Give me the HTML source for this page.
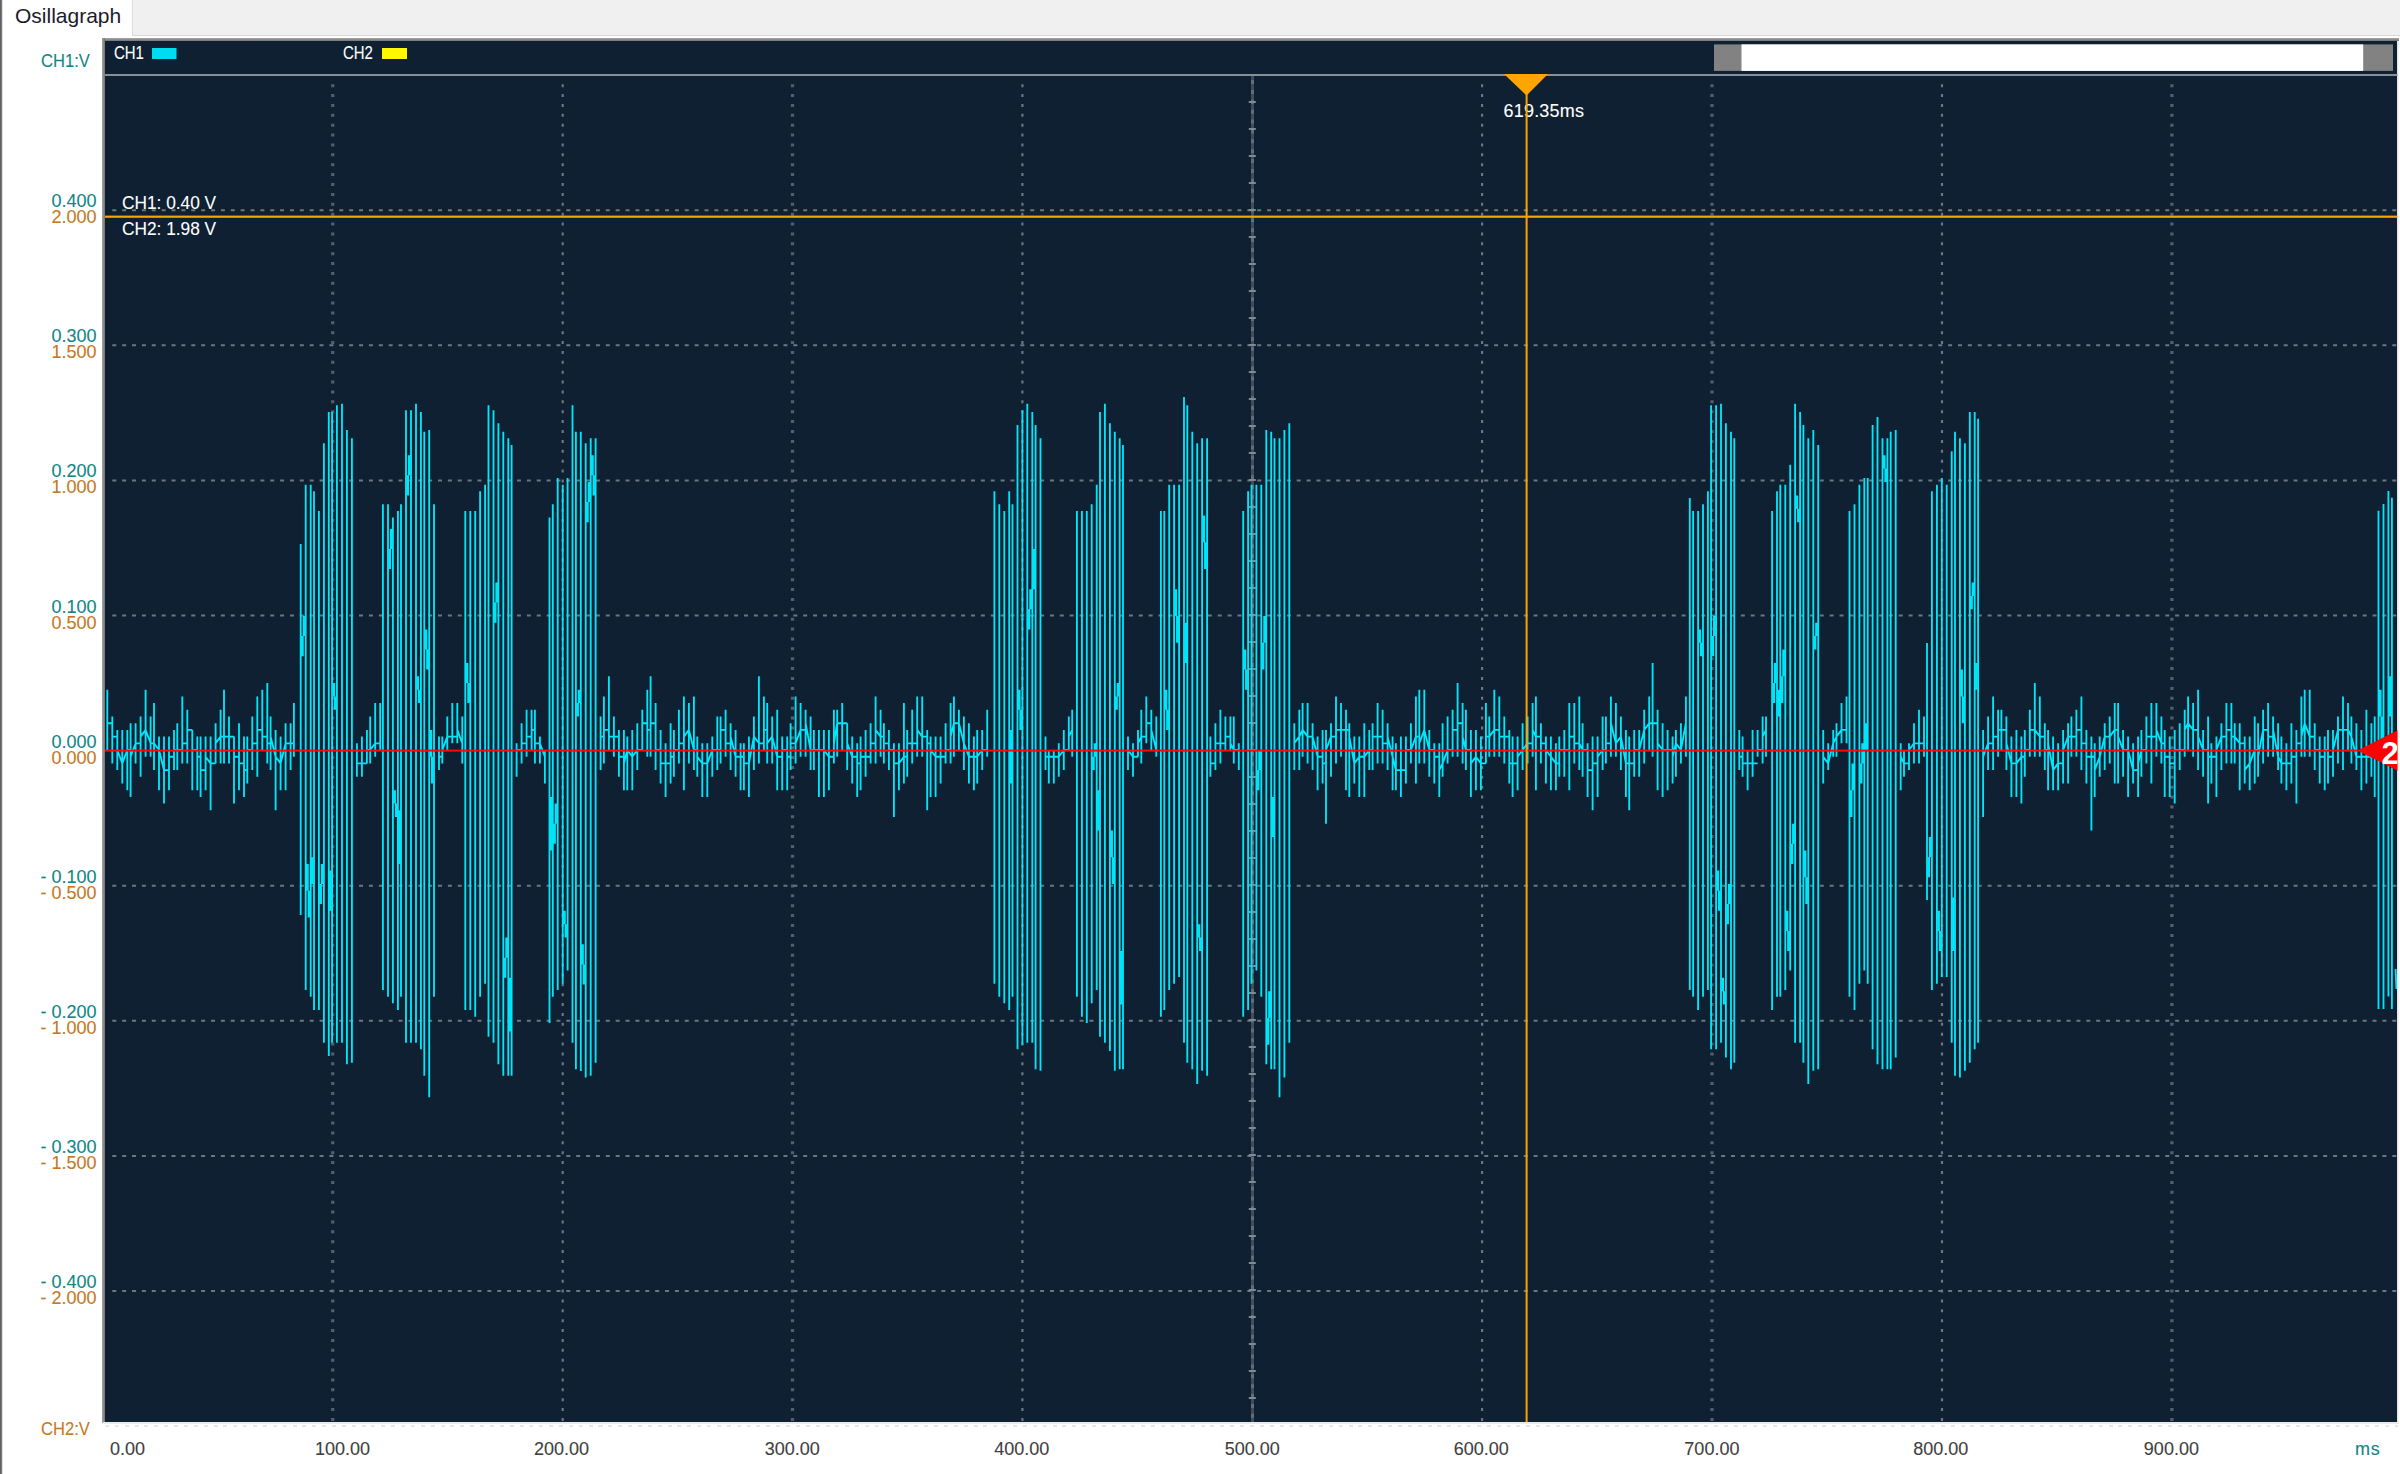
<!DOCTYPE html>
<html><head><meta charset="utf-8"><title>Osillagraph</title>
<style>
html,body{margin:0;padding:0;background:#fff;}
body{width:2400px;height:1474px;position:relative;overflow:hidden;font-family:"Liberation Sans",sans-serif;font-size:18px;line-height:20px;}
.abs{position:absolute}
#edge{left:0;top:0;width:3px;height:1474px;background:linear-gradient(90deg,#5e5e5e 0,#6a6a6a 45%,#d9d9d9 80%,#fff 100%);}
#strip{left:132px;top:0;width:2268px;height:35px;background:#f0f0f0;border-left:1px solid #dcdcdc;border-bottom:1px solid #d9d9d9;box-sizing:border-box;height:36px}
#tab{left:15px;top:4px;font-size:21px;line-height:24px;color:#1b1b2b;white-space:nowrap}
#frame{left:102px;top:38px;width:2297px;height:3px;background:linear-gradient(180deg,#a8a8a8 0,#868686 66%,#6f7478 100%);}
#frameL{left:102px;top:38px;width:3px;height:1385px;background:linear-gradient(90deg,#a4a4a4 0,#858585 66%,#6f7478 100%);}
#frameB{left:103px;top:1422px;width:2296px;height:2px;background:#ebebeb}
#frameR{left:2397px;top:41px;width:2px;height:1383px;background:linear-gradient(90deg,#dfe1e3,#f6f6f6)}
#dash{left:105px;top:1425px;width:2293px;height:2px;background:repeating-linear-gradient(90deg,#e6e6e6 0,#e6e6e6 4px,#fff 4px,#fff 9.87px)}
#plot{left:105px;top:41px;width:2292px;height:1381px;background:#0e2032;}
svg{position:absolute;left:0;top:0}
.gv{stroke:#8a949d;stroke-width:2.2;stroke-dasharray:3 7;}
.gh{stroke:#6c7680;stroke-width:2;stroke-dasharray:4 5.87;}
.yl{position:absolute;left:0;width:96.5px;text-align:right;white-space:pre}
.t{color:#0f8686;-webkit-text-stroke:.1px #0f8686} .o{color:#c7781e;-webkit-text-stroke:.1px #c7781e}
.xl{position:absolute;top:1439px;color:#404040;white-space:nowrap;-webkit-text-stroke:.1px #404040}
.xl.c{width:100px;text-align:center}
.w{color:#fff;position:absolute;white-space:pre;-webkit-text-stroke:.1px #fff}
</style></head><body>
<div class="abs" id="strip"></div>
<div class="abs" id="edge"></div>
<div class="abs" id="tab">Osillagraph</div>
<div class="abs" id="frame"></div>
<div class="abs" id="frameL"></div>
<div class="abs" id="frameB"></div><div class="abs" id="frameR"></div><div class="abs" id="dash"></div>
<div class="abs" id="plot"></div>
<div class="abs t" style="left:41px;top:51px;transform-origin:0 0;transform:scaleX(.92);white-space:nowrap">CH1:V</div>
<div class="abs o" style="left:41px;top:1419px;transform-origin:0 0;transform:scaleX(.92);white-space:nowrap">CH2:V</div>
<div class="yl t" style="top:191px">0.400</div><div class="yl o" style="top:207px">2.000</div><div class="yl t" style="top:326px">0.300</div><div class="yl o" style="top:342px">1.500</div><div class="yl t" style="top:461px">0.200</div><div class="yl o" style="top:477px">1.000</div><div class="yl t" style="top:597px">0.100</div><div class="yl o" style="top:613px">0.500</div><div class="yl t" style="top:732px">0.000</div><div class="yl o" style="top:748px">0.000</div><div class="yl t" style="top:867px">- 0.100</div><div class="yl o" style="top:883px">- 0.500</div><div class="yl t" style="top:1002px">- 0.200</div><div class="yl o" style="top:1018px">- 1.000</div><div class="yl t" style="top:1137px">- 0.300</div><div class="yl o" style="top:1153px">- 1.500</div><div class="yl t" style="top:1272px">- 0.400</div><div class="yl o" style="top:1288px">- 2.000</div>
<div class="xl" style="left:110px">0.00</div><div class="xl c" style="left:292.5px">100.00</div><div class="xl c" style="left:511.5px">200.00</div><div class="xl c" style="left:742.2px">300.00</div><div class="xl c" style="left:971.7px">400.00</div><div class="xl c" style="left:1202.2px">500.00</div><div class="xl c" style="left:1431.3px">600.00</div><div class="xl c" style="left:1661.9px">700.00</div><div class="xl c" style="left:1890.8px">800.00</div><div class="xl c" style="left:2121.4px">900.00</div>
<div class="abs t" style="left:2355px;top:1439px;letter-spacing:.7px">ms</div>
<div class="w" style="left:114px;top:43px;transform-origin:0 0;transform:scaleX(.83)">CH1</div>
<div class="w" style="left:343px;top:43px;transform-origin:0 0;transform:scaleX(.83)">CH2</div>
<div class="w" style="left:1503.5px;top:101px;letter-spacing:.2px">619.35ms</div>
<svg width="2400" height="1474" viewBox="0 0 2400 1474">
<defs><clipPath id="cp"><rect x="105" y="41" width="2292.5" height="1381"/></clipPath></defs>
<g clip-path="url(#cp)">
<rect x="105" y="74" width="2293" height="2" fill="#878f97"/>
<line x1="332.7" y1="84.2" x2="332.7" y2="1422" stroke="#525f6b" stroke-width="3.3" stroke-dasharray="3 6.88"/><line x1="562.7" y1="84.2" x2="562.7" y2="1422" stroke="#6b7680" stroke-width="2.2" stroke-dasharray="3 6.88"/><line x1="792.5" y1="84.2" x2="792.5" y2="1422" stroke="#525f6b" stroke-width="3.3" stroke-dasharray="3 6.88"/><line x1="1022.4" y1="84.2" x2="1022.4" y2="1422" stroke="#6b7680" stroke-width="2.2" stroke-dasharray="3 6.88"/><line x1="1482.1" y1="84.2" x2="1482.1" y2="1422" stroke="#6b7680" stroke-width="2.2" stroke-dasharray="3 6.88"/><line x1="1712.0" y1="84.2" x2="1712.0" y2="1422" stroke="#525f6b" stroke-width="3.3" stroke-dasharray="3 6.88"/><line x1="1942.0" y1="84.2" x2="1942.0" y2="1422" stroke="#6b7680" stroke-width="2.2" stroke-dasharray="3 6.88"/><line x1="2171.9" y1="84.2" x2="2171.9" y2="1422" stroke="#525f6b" stroke-width="3.3" stroke-dasharray="3 6.88"/><line x1="112.3" y1="210.2" x2="2397" y2="210.2" class="gh"/><line x1="112.3" y1="345.3" x2="2397" y2="345.3" class="gh"/><line x1="112.3" y1="480.4" x2="2397" y2="480.4" class="gh"/><line x1="112.3" y1="615.5" x2="2397" y2="615.5" class="gh"/><line x1="112.3" y1="885.7" x2="2397" y2="885.7" class="gh"/><line x1="112.3" y1="1020.8" x2="2397" y2="1020.8" class="gh"/><line x1="112.3" y1="1155.9" x2="2397" y2="1155.9" class="gh"/><line x1="112.3" y1="1291.0" x2="2397" y2="1291.0" class="gh"/>
<rect x="1251" y="76" width="3" height="1346" fill="#414e5a"/><line x1="1252.5" y1="76" x2="1252.5" y2="1422" stroke="#616d79" stroke-width="3" stroke-dasharray="4 5.88" stroke-dashoffset="-4"/><rect x="1248.8" y="101.0" width="7" height="2" fill="#808a93"/><rect x="1248.8" y="128.0" width="7" height="2" fill="#808a93"/><rect x="1248.8" y="155.0" width="7" height="2" fill="#808a93"/><rect x="1248.8" y="182.0" width="7" height="2" fill="#808a93"/><rect x="1248.8" y="209.0" width="7" height="2" fill="#808a93"/><rect x="1248.8" y="236.0" width="7" height="2" fill="#808a93"/><rect x="1248.8" y="263.0" width="7" height="2" fill="#808a93"/><rect x="1248.8" y="290.0" width="7" height="2" fill="#808a93"/><rect x="1248.8" y="317.0" width="7" height="2" fill="#808a93"/><rect x="1248.8" y="344.0" width="7" height="2" fill="#808a93"/><rect x="1248.8" y="371.0" width="7" height="2" fill="#808a93"/><rect x="1248.8" y="398.0" width="7" height="2" fill="#808a93"/><rect x="1248.8" y="425.0" width="7" height="2" fill="#808a93"/><rect x="1248.8" y="452.0" width="7" height="2" fill="#808a93"/><rect x="1248.8" y="479.0" width="7" height="2" fill="#808a93"/><rect x="1248.8" y="506.0" width="7" height="2" fill="#808a93"/><rect x="1248.8" y="533.0" width="7" height="2" fill="#808a93"/><rect x="1248.8" y="560.0" width="7" height="2" fill="#808a93"/><rect x="1248.8" y="587.0" width="7" height="2" fill="#808a93"/><rect x="1248.8" y="614.0" width="7" height="2" fill="#808a93"/><rect x="1248.8" y="641.0" width="7" height="2" fill="#808a93"/><rect x="1248.8" y="668.0" width="7" height="2" fill="#808a93"/><rect x="1248.8" y="695.0" width="7" height="2" fill="#808a93"/><rect x="1248.8" y="722.0" width="7" height="2" fill="#808a93"/><rect x="1248.8" y="749.0" width="7" height="2" fill="#808a93"/><rect x="1248.8" y="776.0" width="7" height="2" fill="#808a93"/><rect x="1248.8" y="803.0" width="7" height="2" fill="#808a93"/><rect x="1248.8" y="830.0" width="7" height="2" fill="#808a93"/><rect x="1248.8" y="857.0" width="7" height="2" fill="#808a93"/><rect x="1248.8" y="884.0" width="7" height="2" fill="#808a93"/><rect x="1248.8" y="911.0" width="7" height="2" fill="#808a93"/><rect x="1248.8" y="938.0" width="7" height="2" fill="#808a93"/><rect x="1248.8" y="965.0" width="7" height="2" fill="#808a93"/><rect x="1248.8" y="992.0" width="7" height="2" fill="#808a93"/><rect x="1248.8" y="1019.0" width="7" height="2" fill="#808a93"/><rect x="1248.8" y="1046.0" width="7" height="2" fill="#808a93"/><rect x="1248.8" y="1073.0" width="7" height="2" fill="#808a93"/><rect x="1248.8" y="1100.0" width="7" height="2" fill="#808a93"/><rect x="1248.8" y="1127.0" width="7" height="2" fill="#808a93"/><rect x="1248.8" y="1154.0" width="7" height="2" fill="#808a93"/><rect x="1248.8" y="1181.0" width="7" height="2" fill="#808a93"/><rect x="1248.8" y="1208.0" width="7" height="2" fill="#808a93"/><rect x="1248.8" y="1235.0" width="7" height="2" fill="#808a93"/><rect x="1248.8" y="1262.0" width="7" height="2" fill="#808a93"/><rect x="1248.8" y="1289.0" width="7" height="2" fill="#808a93"/><rect x="1248.8" y="1316.0" width="7" height="2" fill="#808a93"/><rect x="1248.8" y="1343.0" width="7" height="2" fill="#808a93"/><rect x="1248.8" y="1370.0" width="7" height="2" fill="#808a93"/><rect x="1248.8" y="1397.0" width="7" height="2" fill="#808a93"/>
<rect x="105" y="215.6" width="2293" height="2.2" fill="#f6a600"/>
<path d="M107.3 689.7L107.3 750.0M112.3 716.5L112.3 763.4M107.3 723.2L112.3 723.2M117.3 729.9L117.3 770.1M112.3 736.6L117.3 736.6M122.3 729.9L122.3 783.5M117.3 750.0L122.3 763.4M127.3 729.9L127.3 790.2M122.3 763.4L127.3 750.0M130.6 723.2L130.6 796.9M127.3 750.0L130.6 750.0M135.6 723.2L135.6 763.4M130.6 756.7L135.6 743.3M140.6 716.5L140.6 776.8M135.6 743.3L140.6 743.3M145.6 689.7L145.6 756.7M140.6 736.6L145.6 729.9M150.6 716.5L150.6 756.7M145.6 729.9L150.6 743.3M154.0 703.1L154.0 770.1M150.6 743.3L154.0 743.3M159.0 736.6L159.0 790.2M154.0 743.3L159.0 750.0M164.0 736.6L164.0 803.6M159.0 750.0L164.0 770.1M169.0 736.6L169.0 790.2M164.0 770.1L169.0 770.1M174.0 729.9L174.0 770.1M169.0 756.7L174.0 756.7M177.3 723.2L177.3 770.1M174.0 750.0L177.3 750.0M182.3 696.4L182.3 763.4M177.3 750.0L182.3 750.0M187.3 709.8L187.3 763.4M182.3 743.3L187.3 743.3M192.3 729.9L192.3 790.2M187.3 729.9L192.3 729.9M197.3 736.6L197.3 790.2M192.3 750.0L197.3 750.0M200.6 736.6L200.6 796.9M197.3 756.7L200.6 756.7M205.6 736.6L205.6 790.2M200.6 770.1L205.6 770.1M210.6 736.6L210.6 810.3M205.6 756.7L210.6 763.4M215.6 723.2L215.6 763.4M210.6 763.4L215.6 763.4M220.6 709.8L220.6 763.4M215.6 743.3L220.6 736.6M224.0 689.7L224.0 763.4M220.6 736.6L224.0 736.6M229.0 716.5L229.0 763.4M224.0 736.6L229.0 736.6M234.0 736.6L234.0 803.6M229.0 736.6L234.0 736.6M239.0 723.2L239.0 790.2M234.0 756.7L239.0 756.7M244.0 736.6L244.0 796.9M239.0 763.4L244.0 763.4M247.3 736.6L247.3 783.5M244.0 770.1L247.3 770.1M252.3 716.5L252.3 770.1M247.3 750.0L252.3 750.0M257.3 696.4L257.3 776.8M252.3 743.3L257.3 743.3M262.3 689.7L262.3 750.0M257.3 729.9L262.3 729.9M267.3 683.0L267.3 763.4M262.3 736.6L267.3 736.6M270.6 716.5L270.6 770.1M267.3 743.3L270.6 743.3M275.6 729.9L275.6 810.3M270.6 736.6L275.6 756.7M280.6 736.6L280.6 790.2M275.6 756.7L280.6 763.4M285.6 723.2L285.6 790.2M280.6 763.4L285.6 743.3M290.6 723.2L290.6 770.1M285.6 743.3L290.6 743.3M293.9 703.1L293.9 756.7M290.6 743.3L293.9 743.3M300.7 544.0L300.7 915.0M305.7 484.7L305.7 990.0M310.7 484.7L310.7 996.7M314.0 491.3L314.0 1010.0M318.9 511.0L318.9 1010.0M323.9 443.3L323.9 1042.7M328.8 412.0L328.8 1056.0M332.1 412.0L332.1 1042.7M336.9 405.3L336.9 1042.7M342.0 403.7L342.0 1042.7M346.9 430.0L346.9 1064.3M351.9 438.3L351.9 1062.7M356.9 743.3L356.9 776.8M361.9 736.6L361.9 776.8M356.9 763.4L361.9 763.4M366.9 729.9L366.9 763.4M361.9 763.4L366.9 763.4M370.2 716.5L370.2 763.4M366.9 750.0L370.2 750.0M375.2 703.1L375.2 756.7M370.2 750.0L375.2 743.3M380.2 703.1L380.2 750.0M375.2 743.3L380.2 743.3M382.9 504.3L382.9 990.0M388.0 504.3L388.0 996.7M392.9 517.6L392.9 1003.3M397.9 511.0L397.9 1010.0M401.0 504.3L401.0 996.7M406.0 410.3L406.0 1042.7M411.0 410.3L411.0 1042.7M416.0 403.7L416.0 1042.7M420.9 412.0L420.9 1049.3M424.3 431.7L424.3 1075.7M429.2 430.0L429.2 1097.3M434.0 504.3L434.0 996.7M439.0 736.6L439.0 770.1M442.3 736.6L442.3 763.4M439.0 756.7L442.3 756.7M447.3 716.5L447.3 750.0M442.3 750.0L447.3 736.6M452.3 703.1L452.3 743.3M447.3 736.6L452.3 736.6M457.3 703.1L457.3 743.3M452.3 736.6L457.3 736.6M462.3 716.5L462.3 763.4M457.3 729.9L462.3 743.3M465.3 511.0L465.3 1010.0M470.3 511.0L470.3 1010.0M475.2 511.0L475.2 1016.7M480.1 491.3L480.1 996.7M485.1 484.7L485.1 983.7M488.5 405.3L488.5 1036.7M493.5 410.3L493.5 1042.7M498.4 423.3L498.4 1064.3M503.3 431.7L503.3 1075.7M508.3 438.3L508.3 1075.7M511.6 445.0L511.6 1075.7M516.6 743.3L516.6 776.8M521.6 723.2L521.6 763.4M516.6 750.0L521.6 750.0M526.6 709.8L526.6 756.7M521.6 743.3L526.6 743.3M531.6 709.8L531.6 750.0M526.6 736.6L531.6 736.6M534.9 709.8L534.9 763.4M531.6 729.9L534.9 729.9M539.9 736.6L539.9 763.4M534.9 743.3L539.9 743.3M544.9 750.0L544.9 783.5M539.9 743.3L544.9 756.7M549.5 517.6L549.5 1023.0M552.8 504.3L552.8 996.7M557.7 478.0L557.7 990.0M562.7 484.7L562.7 983.7M567.6 478.0L567.6 970.4M572.5 405.3L572.5 1042.7M575.9 431.7L575.9 1069.3M580.8 431.7L580.8 1071.0M585.7 443.3L585.7 1077.6M590.7 438.3L590.7 1075.7M595.6 438.3L595.6 1062.7M600.6 716.5L600.6 770.1M603.9 696.4L603.9 763.4M600.6 736.6L603.9 736.6M608.9 676.3L608.9 750.0M603.9 729.9L608.9 729.9M613.9 716.5L613.9 756.7M608.9 736.6L613.9 736.6M618.9 729.9L618.9 776.8M613.9 736.6L618.9 736.6M623.9 729.9L623.9 790.2M618.9 756.7L623.9 756.7M627.3 736.6L627.3 790.2M623.9 763.4L627.3 750.0M632.3 729.9L632.3 790.2M627.3 750.0L632.3 756.7M637.3 723.2L637.3 770.1M632.3 756.7L637.3 750.0M642.3 709.8L642.3 750.0M637.3 750.0L642.3 750.0M647.3 689.7L647.3 756.7M642.3 723.2L647.3 723.2M650.6 676.3L650.6 756.7M647.3 729.9L650.6 729.9M655.6 703.1L655.6 770.1M650.6 723.2L655.6 723.2M660.6 729.9L660.6 783.5M655.6 750.0L660.6 750.0M665.6 743.3L665.6 796.9M660.6 763.4L665.6 763.4M670.6 723.2L670.6 783.5M665.6 763.4L670.6 763.4M673.9 729.9L673.9 776.8M670.6 756.7L673.9 756.7M678.9 709.8L678.9 763.4M673.9 750.0L678.9 750.0M683.9 696.4L683.9 790.2M678.9 743.3L683.9 743.3M688.9 703.1L688.9 763.4M683.9 736.6L688.9 729.9M693.9 696.4L693.9 770.1M688.9 729.9L693.9 750.0M697.3 736.6L697.3 776.8M693.9 750.0L697.3 750.0M702.3 743.3L702.3 796.9M697.3 756.7L702.3 763.4M707.3 743.3L707.3 796.9M702.3 763.4L707.3 763.4M712.3 736.6L712.3 776.8M707.3 763.4L712.3 750.0M717.3 716.5L717.3 770.1M712.3 750.0L717.3 750.0M720.6 716.5L720.6 763.4M717.3 750.0L720.6 750.0M725.6 709.8L725.6 756.7M720.6 729.9L725.6 729.9M730.6 723.2L730.6 770.1M725.6 743.3L730.6 743.3M735.6 729.9L735.6 776.8M730.6 736.6L735.6 756.7M740.6 743.3L740.6 790.2M735.6 756.7L740.6 756.7M743.9 743.3L743.9 790.2M740.6 756.7L743.9 756.7M748.9 736.6L748.9 796.9M743.9 763.4L748.9 763.4M753.9 716.5L753.9 770.1M748.9 763.4L753.9 736.6M758.9 676.3L758.9 763.4M753.9 736.6L758.9 743.3M763.9 696.4L763.9 750.0M758.9 743.3L763.9 743.3M767.2 703.1L767.2 763.4M763.9 729.9L767.2 729.9M772.2 716.5L772.2 763.4M767.2 743.3L772.2 736.6M777.2 709.8L777.2 790.2M772.2 736.6L777.2 756.7M782.2 736.6L782.2 790.2M777.2 756.7L782.2 756.7M787.2 736.6L787.2 790.2M782.2 750.0L787.2 750.0M790.6 723.2L790.6 770.1M787.2 756.7L790.6 756.7M795.6 696.4L795.6 763.4M790.6 743.3L795.6 743.3M800.6 703.1L800.6 756.7M795.6 743.3L800.6 729.9M805.6 709.8L805.6 756.7M800.6 729.9L805.6 729.9M810.6 716.5L810.6 770.1M805.6 723.2L810.6 750.0M813.9 729.9L813.9 770.1M810.6 750.0L813.9 750.0M818.9 729.9L818.9 796.9M813.9 750.0L818.9 750.0M823.9 729.9L823.9 796.9M818.9 750.0L823.9 750.0M828.9 729.9L828.9 790.2M823.9 750.0L828.9 756.7M833.9 709.8L833.9 763.4M828.9 756.7L833.9 756.7M837.2 709.8L837.2 756.7M833.9 743.3L837.2 723.2M842.2 703.1L842.2 750.0M837.2 723.2L842.2 723.2M847.2 723.2L847.2 770.1M842.2 723.2L847.2 723.2M852.2 736.6L852.2 783.5M847.2 743.3L852.2 756.7M857.2 743.3L857.2 796.9M852.2 756.7L857.2 756.7M860.6 736.6L860.6 790.2M857.2 763.4L860.6 763.4M865.6 729.9L865.6 776.8M860.6 756.7L865.6 756.7M870.6 723.2L870.6 763.4M865.6 756.7L870.6 756.7M875.6 696.4L875.6 763.4M870.6 743.3L875.6 743.3M880.6 709.8L880.6 756.7M875.6 729.9L880.6 736.6M883.9 723.2L883.9 763.4M880.6 736.6L883.9 736.6M888.9 729.9L888.9 770.1M883.9 743.3L888.9 743.3M893.9 743.3L893.9 817.0M888.9 750.0L893.9 750.0M898.9 743.3L898.9 790.2M893.9 763.4L898.9 763.4M903.9 703.1L903.9 783.5M898.9 763.4L903.9 756.7M907.2 729.9L907.2 776.8M903.9 756.7L907.2 756.7M912.2 709.8L912.2 763.4M907.2 743.3L912.2 743.3M917.2 696.4L917.2 756.7M912.2 743.3L917.2 743.3M922.2 696.4L922.2 756.7M917.2 729.9L922.2 736.6M927.2 729.9L927.2 810.3M922.2 736.6L927.2 736.6M930.6 736.6L930.6 796.9M927.2 743.3L930.6 743.3M935.6 736.6L935.6 796.9M930.6 750.0L935.6 756.7M940.6 736.6L940.6 783.5M935.6 756.7L940.6 756.7M945.6 723.2L945.6 763.4M940.6 756.7L945.6 756.7M950.6 703.1L950.6 763.4M945.6 750.0L950.6 750.0M953.9 696.4L953.9 756.7M950.6 736.6L953.9 723.2M958.9 709.8L958.9 750.0M953.9 723.2L958.9 723.2M963.9 716.5L963.9 770.1M958.9 723.2L963.9 743.3M968.9 723.2L968.9 783.5M963.9 743.3L968.9 756.7M973.9 736.6L973.9 790.2M968.9 756.7L973.9 756.7M977.2 729.9L977.2 783.5M973.9 756.7L977.2 756.7M982.2 729.9L982.2 770.1M977.2 756.7L982.2 750.0M987.2 709.8L987.2 756.7M982.2 750.0L987.2 750.0M994.4 491.3L994.4 983.7M999.3 504.3L999.3 996.7M1004.3 511.0L1004.3 1003.3M1009.2 491.3L1009.2 1010.0M1012.5 504.3L1012.5 996.7M1017.5 425.0L1017.5 1049.3M1022.4 410.3L1022.4 1044.7M1027.3 403.7L1027.3 1042.7M1032.3 412.0L1032.3 1042.7M1035.6 425.0L1035.6 1069.3M1040.5 438.3L1040.5 1070.7M1045.5 736.6L1045.5 770.1M1048.8 750.0L1048.8 783.5M1045.5 756.7L1048.8 756.7M1053.8 750.0L1053.8 783.5M1048.8 756.7L1053.8 756.7M1058.8 743.3L1058.8 776.8M1053.8 756.7L1058.8 756.7M1063.8 729.9L1063.8 770.1M1058.8 756.7L1063.8 750.0M1068.8 716.5L1068.8 750.0M1063.8 750.0L1068.8 750.0M1072.2 709.8L1072.2 756.7M1068.8 736.6L1072.2 729.9M1076.9 511.0L1076.9 996.7M1081.9 511.0L1081.9 1016.7M1086.8 511.0L1086.8 1023.0M1091.7 504.3L1091.7 1003.3M1096.7 484.7L1096.7 990.0M1100.0 412.0L1100.0 1036.7M1104.9 403.7L1104.9 1042.7M1109.9 423.3L1109.9 1051.0M1114.8 431.7L1114.8 1070.7M1119.7 438.3L1119.7 1069.3M1123.0 445.0L1123.0 1069.3M1128.0 736.6L1128.0 770.1M1133.0 743.3L1133.0 776.8M1128.0 750.0L1133.0 756.7M1138.0 729.9L1138.0 756.7M1133.0 756.7L1138.0 756.7M1141.3 709.8L1141.3 763.4M1138.0 743.3L1141.3 736.6M1146.3 696.4L1146.3 743.3M1141.3 736.6L1146.3 736.6M1151.3 709.8L1151.3 750.0M1146.3 723.2L1151.3 723.2M1156.3 716.5L1156.3 756.7M1151.3 729.9L1156.3 750.0M1160.9 511.0L1160.9 1016.7M1164.3 511.0L1164.3 1010.0M1169.2 484.7L1169.2 990.0M1174.1 484.7L1174.1 983.7M1179.1 484.7L1179.1 977.0M1184.0 397.0L1184.0 1042.7M1187.3 405.3L1187.3 1062.7M1192.3 431.7L1192.3 1069.3M1197.2 443.3L1197.2 1084.0M1202.1 438.3L1202.1 1070.7M1207.1 438.3L1207.1 1075.7M1210.4 736.6L1210.4 776.8M1215.4 723.2L1215.4 770.1M1210.4 763.4L1215.4 763.4M1220.4 709.8L1220.4 763.4M1215.4 743.3L1220.4 743.3M1225.4 716.5L1225.4 750.0M1220.4 743.3L1225.4 743.3M1230.4 716.5L1230.4 750.0M1225.4 736.6L1230.4 736.6M1233.8 716.5L1233.8 763.4M1230.4 743.3L1233.8 750.0M1238.8 743.3L1238.8 770.1M1233.8 750.0L1238.8 750.0M1243.2 511.0L1243.2 1016.7M1248.1 491.3L1248.1 1010.0M1251.5 484.7L1251.5 983.7M1256.4 484.7L1256.4 970.4M1261.3 484.7L1261.3 996.7M1266.3 430.0L1266.3 1064.3M1271.2 431.7L1271.2 1069.3M1274.5 438.3L1274.5 1069.3M1279.5 438.3L1279.5 1097.3M1284.4 430.0L1284.4 1077.6M1289.3 423.3L1289.3 1042.7M1294.3 723.2L1294.3 770.1M1299.3 709.8L1299.3 770.1M1294.3 743.3L1299.3 736.6M1302.6 703.1L1302.6 756.7M1299.3 736.6L1302.6 729.9M1307.6 703.1L1307.6 763.4M1302.6 729.9L1307.6 736.6M1312.6 723.2L1312.6 770.1M1307.6 736.6L1312.6 736.6M1317.6 736.6L1317.6 790.2M1312.6 736.6L1317.6 756.7M1322.6 729.9L1322.6 783.5M1317.6 756.7L1322.6 756.7M1326.0 729.9L1326.0 823.7M1322.6 763.4L1326.0 763.4M1331.0 723.2L1331.0 776.8M1326.0 750.0L1331.0 736.6M1336.0 696.4L1336.0 763.4M1331.0 736.6L1336.0 736.6M1341.0 703.1L1341.0 756.7M1336.0 729.9L1341.0 729.9M1346.0 709.8L1346.0 790.2M1341.0 729.9L1346.0 729.9M1349.3 723.2L1349.3 796.9M1346.0 729.9L1349.3 729.9M1354.3 736.6L1354.3 783.5M1349.3 736.6L1354.3 763.4M1359.3 736.6L1359.3 796.9M1354.3 763.4L1359.3 756.7M1364.3 723.2L1364.3 796.9M1359.3 756.7L1364.3 756.7M1369.3 729.9L1369.3 770.1M1364.3 756.7L1369.3 750.0M1372.6 723.2L1372.6 770.1M1369.3 750.0L1372.6 750.0M1377.6 703.1L1377.6 763.4M1372.6 736.6L1377.6 736.6M1382.6 709.8L1382.6 763.4M1377.6 736.6L1382.6 736.6M1387.6 723.2L1387.6 770.1M1382.6 743.3L1387.6 743.3M1392.6 736.6L1392.6 790.2M1387.6 736.6L1392.6 756.7M1395.9 743.3L1395.9 790.2M1392.6 756.7L1395.9 770.1M1400.9 736.6L1400.9 796.9M1395.9 770.1L1400.9 770.1M1405.9 736.6L1405.9 783.5M1400.9 770.1L1405.9 770.1M1410.9 723.2L1410.9 763.4M1405.9 750.0L1410.9 750.0M1415.9 696.4L1415.9 783.5M1410.9 750.0L1415.9 736.6M1419.3 689.7L1419.3 763.4M1415.9 736.6L1419.3 736.6M1424.3 689.7L1424.3 763.4M1419.3 743.3L1424.3 729.9M1429.3 729.9L1429.3 776.8M1424.3 729.9L1429.3 750.0M1434.3 743.3L1434.3 783.5M1429.3 750.0L1434.3 750.0M1439.3 743.3L1439.3 796.9M1434.3 756.7L1439.3 756.7M1442.6 723.2L1442.6 776.8M1439.3 770.1L1442.6 763.4M1447.6 716.5L1447.6 763.4M1442.6 763.4L1447.6 750.0M1452.6 709.8L1452.6 756.7M1447.6 750.0L1452.6 750.0M1457.6 683.0L1457.6 756.7M1452.6 729.9L1457.6 729.9M1462.6 703.1L1462.6 763.4M1457.6 723.2L1462.6 723.2M1465.9 709.8L1465.9 770.1M1462.6 736.6L1465.9 750.0M1470.9 729.9L1470.9 796.9M1465.9 750.0L1470.9 750.0M1475.9 729.9L1475.9 790.2M1470.9 763.4L1475.9 756.7M1480.9 736.6L1480.9 790.2M1475.9 756.7L1480.9 763.4M1485.9 703.1L1485.9 763.4M1480.9 763.4L1485.9 763.4M1489.3 716.5L1489.3 756.7M1485.9 736.6L1489.3 736.6M1494.3 689.7L1494.3 756.7M1489.3 736.6L1494.3 729.9M1499.3 696.4L1499.3 756.7M1494.3 729.9L1499.3 729.9M1504.3 716.5L1504.3 763.4M1499.3 736.6L1504.3 736.6M1509.3 729.9L1509.3 783.5M1504.3 736.6L1509.3 736.6M1512.6 736.6L1512.6 796.9M1509.3 763.4L1512.6 763.4M1517.6 736.6L1517.6 790.2M1512.6 763.4L1517.6 763.4M1522.6 723.2L1522.6 770.1M1517.6 756.7L1522.6 750.0M1527.6 716.5L1527.6 763.4M1522.6 750.0L1527.6 743.3M1532.6 703.1L1532.6 756.7M1527.6 743.3L1532.6 743.3M1535.9 696.4L1535.9 790.2M1532.6 729.9L1535.9 736.6M1540.9 723.2L1540.9 763.4M1535.9 736.6L1540.9 736.6M1545.9 736.6L1545.9 783.5M1540.9 743.3L1545.9 743.3M1550.9 736.6L1550.9 790.2M1545.9 750.0L1550.9 756.7M1555.9 743.3L1555.9 790.2M1550.9 756.7L1555.9 763.4M1559.3 736.6L1559.3 776.8M1555.9 763.4L1559.3 763.4M1564.3 729.9L1564.3 776.8M1559.3 750.0L1564.3 750.0M1569.3 703.1L1569.3 790.2M1564.3 750.0L1569.3 750.0M1574.3 703.1L1574.3 763.4M1569.3 736.6L1574.3 736.6M1579.3 696.4L1579.3 770.1M1574.3 743.3L1579.3 743.3M1582.6 723.2L1582.6 776.8M1579.3 743.3L1582.6 750.0M1587.6 743.3L1587.6 796.9M1582.6 750.0L1587.6 750.0M1592.6 736.6L1592.6 810.3M1587.6 770.1L1592.6 770.1M1597.6 736.6L1597.6 796.9M1592.6 763.4L1597.6 763.4M1602.6 716.5L1602.6 770.1M1597.6 756.7L1602.6 750.0M1605.9 716.5L1605.9 763.4M1602.6 750.0L1605.9 750.0M1610.9 696.4L1610.9 756.7M1605.9 743.3L1610.9 743.3M1615.9 703.1L1615.9 756.7M1610.9 723.2L1615.9 743.3M1620.9 716.5L1620.9 770.1M1615.9 743.3L1620.9 736.6M1625.9 729.9L1625.9 796.9M1620.9 736.6L1625.9 763.4M1629.2 736.6L1629.2 810.3M1625.9 763.4L1629.2 763.4M1634.2 729.9L1634.2 776.8M1629.2 763.4L1634.2 763.4M1639.2 729.9L1639.2 776.8M1634.2 750.0L1639.2 750.0M1644.2 709.8L1644.2 763.4M1639.2 750.0L1644.2 729.9M1649.2 696.4L1649.2 750.0M1644.2 729.9L1649.2 723.2M1652.6 662.9L1652.6 756.7M1649.2 723.2L1652.6 723.2M1657.6 709.8L1657.6 790.2M1652.6 723.2L1657.6 723.2M1662.6 723.2L1662.6 796.9M1657.6 743.3L1662.6 750.0M1667.6 729.9L1667.6 790.2M1662.6 750.0L1667.6 750.0M1672.6 736.6L1672.6 783.5M1667.6 750.0L1672.6 750.0M1675.9 729.9L1675.9 776.8M1672.6 756.7L1675.9 743.3M1680.9 723.2L1680.9 763.4M1675.9 743.3L1680.9 750.0M1685.9 696.4L1685.9 756.7M1680.9 750.0L1685.9 723.2M1689.8 498.0L1689.8 990.0M1693.1 511.0L1693.1 996.7M1698.1 511.0L1698.1 1010.0M1703.0 504.3L1703.0 996.7M1707.9 491.3L1707.9 990.0M1711.1 405.3L1711.1 1049.3M1716.1 405.3L1716.1 1049.3M1721.0 403.7L1721.0 1042.7M1725.9 423.3L1725.9 1057.6M1731.0 431.7L1731.0 1069.3M1734.3 438.3L1734.3 1062.7M1739.3 729.9L1739.3 770.1M1742.6 736.6L1742.6 776.8M1739.3 756.7L1742.6 756.7M1747.6 750.0L1747.6 790.2M1742.6 763.4L1747.6 763.4M1752.6 729.9L1752.6 776.8M1747.6 763.4L1752.6 763.4M1757.6 729.9L1757.6 756.7M1752.6 763.4L1757.6 763.4M1762.6 716.5L1762.6 763.4M1757.6 750.0L1762.6 750.0M1766.0 716.5L1766.0 756.7M1762.6 736.6L1766.0 729.9M1772.1 511.0L1772.1 1010.0M1777.0 491.3L1777.0 996.7M1780.3 484.7L1780.3 996.7M1785.3 484.7L1785.3 990.0M1790.2 464.7L1790.2 970.4M1795.1 403.7L1795.1 1042.7M1800.1 412.0L1800.1 1042.7M1803.4 425.0L1803.4 1062.7M1808.3 438.3L1808.3 1084.0M1813.3 430.0L1813.3 1070.7M1818.2 445.0L1818.2 1069.3M1823.2 729.9L1823.2 783.5M1828.2 743.3L1828.2 770.1M1823.2 756.7L1828.2 763.4M1833.2 729.9L1833.2 756.7M1828.2 763.4L1833.2 743.3M1836.5 723.2L1836.5 756.7M1833.2 743.3L1836.5 736.6M1841.5 703.1L1841.5 743.3M1836.5 736.6L1841.5 729.9M1846.5 696.4L1846.5 743.3M1841.5 729.9L1846.5 729.9M1849.5 511.0L1849.5 996.7M1854.5 504.3L1854.5 1010.0M1859.4 484.7L1859.4 983.7M1864.3 478.0L1864.3 970.4M1867.7 478.0L1867.7 983.7M1872.6 425.0L1872.6 1049.3M1877.5 417.0L1877.5 1064.3M1882.5 438.3L1882.5 1069.3M1887.4 438.3L1887.4 1069.3M1890.7 431.7L1890.7 1069.3M1895.7 430.0L1895.7 1057.6M1900.7 743.3L1900.7 790.2M1904.0 750.0L1904.0 776.8M1900.7 756.7L1904.0 763.4M1909.0 743.3L1909.0 770.1M1904.0 763.4L1909.0 763.4M1914.0 723.2L1914.0 763.4M1909.0 750.0L1914.0 743.3M1919.0 709.8L1919.0 763.4M1914.0 743.3L1919.0 743.3M1924.0 716.5L1924.0 756.7M1919.0 743.3L1924.0 743.3M1927.0 643.0L1927.0 900.0M1931.9 491.3L1931.9 990.0M1936.9 484.7L1936.9 983.7M1941.8 478.0L1941.8 977.0M1946.7 484.7L1946.7 977.0M1951.7 451.3L1951.7 1042.7M1955.0 431.7L1955.0 1075.7M1959.9 438.3L1959.9 1077.6M1964.9 443.3L1964.9 1070.7M1969.8 412.0L1969.8 1062.7M1974.7 412.0L1974.7 1049.3M1978.1 418.7L1978.1 1042.7M1983.1 729.9L1983.1 817.0M1988.1 716.5L1988.1 770.1M1983.1 756.7L1988.1 743.3M1993.1 696.4L1993.1 770.1M1988.1 743.3L1993.1 743.3M1998.1 709.8L1998.1 756.7M1993.1 736.6L1998.1 736.6M2001.4 709.8L2001.4 750.0M1998.1 729.9L2001.4 729.9M2006.4 716.5L2006.4 770.1M2001.4 729.9L2006.4 729.9M2011.4 736.6L2011.4 796.9M2006.4 743.3L2011.4 763.4M2016.4 729.9L2016.4 796.9M2011.4 763.4L2016.4 763.4M2021.4 736.6L2021.4 803.6M2016.4 763.4L2021.4 756.7M2024.8 729.9L2024.8 776.8M2021.4 756.7L2024.8 756.7M2029.8 709.8L2029.8 756.7M2024.8 750.0L2029.8 750.0M2034.8 683.0L2034.8 756.7M2029.8 729.9L2034.8 729.9M2039.8 696.4L2039.8 756.7M2034.8 729.9L2039.8 736.6M2044.8 723.2L2044.8 770.1M2039.8 736.6L2044.8 736.6M2048.1 729.9L2048.1 790.2M2044.8 750.0L2048.1 750.0M2053.1 736.6L2053.1 790.2M2048.1 743.3L2053.1 770.1M2058.1 743.3L2058.1 790.2M2053.1 770.1L2058.1 763.4M2063.1 729.9L2063.1 783.5M2058.1 763.4L2063.1 763.4M2068.1 723.2L2068.1 783.5M2063.1 750.0L2068.1 736.6M2071.4 716.5L2071.4 756.7M2068.1 736.6L2071.4 736.6M2076.4 709.8L2076.4 756.7M2071.4 736.6L2076.4 736.6M2081.4 696.4L2081.4 770.1M2076.4 729.9L2081.4 729.9M2086.4 729.9L2086.4 783.5M2081.4 743.3L2086.4 743.3M2091.4 736.6L2091.4 830.4M2086.4 756.7L2091.4 756.7M2094.7 743.3L2094.7 796.9M2091.4 756.7L2094.7 756.7M2099.7 736.6L2099.7 776.8M2094.7 770.1L2099.7 756.7M2104.7 723.2L2104.7 770.1M2099.7 756.7L2104.7 736.6M2109.7 716.5L2109.7 763.4M2104.7 736.6L2109.7 736.6M2114.7 703.1L2114.7 783.5M2109.7 736.6L2114.7 729.9M2118.1 703.1L2118.1 783.5M2114.7 729.9L2118.1 729.9M2123.1 729.9L2123.1 776.8M2118.1 736.6L2123.1 750.0M2128.1 736.6L2128.1 796.9M2123.1 750.0L2128.1 750.0M2133.1 743.3L2133.1 783.5M2128.1 750.0L2133.1 770.1M2138.1 736.6L2138.1 796.9M2133.1 770.1L2138.1 770.1M2141.4 729.9L2141.4 776.8M2138.1 763.4L2141.4 750.0M2146.4 716.5L2146.4 763.4M2141.4 750.0L2146.4 750.0M2151.4 703.1L2151.4 783.5M2146.4 736.6L2151.4 736.6M2156.4 703.1L2156.4 756.7M2151.4 736.6L2156.4 736.6M2161.4 716.5L2161.4 763.4M2156.4 729.9L2161.4 743.3M2164.7 729.9L2164.7 796.9M2161.4 743.3L2164.7 743.3M2169.7 736.6L2169.7 796.9M2164.7 756.7L2169.7 756.7M2174.7 729.9L2174.7 803.6M2169.7 763.4L2174.7 763.4M2179.7 723.2L2179.7 770.1M2174.7 750.0L2179.7 750.0M2184.7 709.8L2184.7 756.7M2179.7 750.0L2184.7 750.0M2188.1 696.4L2188.1 750.0M2184.7 729.9L2188.1 723.2M2193.1 703.1L2193.1 756.7M2188.1 723.2L2193.1 729.9M2198.1 689.7L2198.1 770.1M2193.1 729.9L2198.1 729.9M2203.1 729.9L2203.1 776.8M2198.1 736.6L2203.1 750.0M2208.1 716.5L2208.1 803.6M2203.1 750.0L2208.1 750.0M2211.4 743.3L2211.4 783.5M2208.1 756.7L2211.4 756.7M2216.4 736.6L2216.4 796.9M2211.4 756.7L2216.4 756.7M2221.4 723.2L2221.4 770.1M2216.4 750.0L2221.4 736.6M2226.4 703.1L2226.4 763.4M2221.4 736.6L2226.4 736.6M2231.4 703.1L2231.4 763.4M2226.4 729.9L2231.4 729.9M2234.7 723.2L2234.7 763.4M2231.4 736.6L2234.7 736.6M2239.7 723.2L2239.7 790.2M2234.7 736.6L2239.7 743.3M2244.7 736.6L2244.7 783.5M2239.7 743.3L2244.7 743.3M2249.7 736.6L2249.7 790.2M2244.7 770.1L2249.7 763.4M2254.7 716.5L2254.7 783.5M2249.7 763.4L2254.7 750.0M2258.1 723.2L2258.1 776.8M2254.7 750.0L2258.1 750.0M2263.1 709.8L2263.1 763.4M2258.1 756.7L2263.1 729.9M2268.1 703.1L2268.1 756.7M2263.1 729.9L2268.1 729.9M2273.1 716.5L2273.1 756.7M2268.1 736.6L2273.1 736.6M2278.1 723.2L2278.1 770.1M2273.1 729.9L2278.1 756.7M2281.4 736.6L2281.4 783.5M2278.1 756.7L2281.4 763.4M2286.4 743.3L2286.4 790.2M2281.4 763.4L2286.4 763.4M2291.4 723.2L2291.4 783.5M2286.4 763.4L2291.4 763.4M2296.4 729.9L2296.4 803.6M2291.4 756.7L2296.4 756.7M2301.4 696.4L2301.4 756.7M2296.4 743.3L2301.4 743.3M2304.7 689.7L2304.7 756.7M2301.4 736.6L2304.7 723.2M2309.7 689.7L2309.7 756.7M2304.7 723.2L2309.7 736.6M2314.7 723.2L2314.7 770.1M2309.7 736.6L2314.7 736.6M2319.7 736.6L2319.7 783.5M2314.7 750.0L2319.7 750.0M2324.7 736.6L2324.7 790.2M2319.7 756.7L2324.7 756.7M2328.0 729.9L2328.0 783.5M2324.7 750.0L2328.0 750.0M2333.0 729.9L2333.0 776.8M2328.0 756.7L2333.0 756.7M2338.0 716.5L2338.0 763.4M2333.0 750.0L2338.0 729.9M2343.0 696.4L2343.0 770.1M2338.0 729.9L2343.0 729.9M2348.0 703.1L2348.0 750.0M2343.0 729.9L2348.0 729.9M2351.4 716.5L2351.4 763.4M2348.0 729.9L2351.4 736.6M2356.4 723.2L2356.4 770.1M2351.4 736.6L2356.4 756.7M2361.4 729.9L2361.4 790.2M2356.4 756.7L2361.4 756.7M2366.4 709.8L2366.4 783.5M2361.4 756.7L2366.4 756.7M2371.4 723.2L2371.4 776.8M2366.4 756.7L2371.4 756.7M2374.7 716.5L2374.7 796.9M2371.4 756.7L2374.7 756.7M2378.5 510.8L2378.5 1009.0M2383.5 504.0L2383.5 1009.0M2388.4 491.0L2388.4 996.5M2391.9 497.7L2391.9 1009.0M2395.6 969.0L2396.4 989.0" fill="none" stroke="#00e6fa" stroke-width="1.85" stroke-linecap="butt"/>
<path d="M302.3 636.1L302.3 656.2M304.1 616.0L304.1 636.1M307.3 863.9L307.3 890.7M309.1 890.7L309.1 917.5M312.3 857.2L312.3 870.6M312.4 870.6L312.4 884.0M320.5 884.0L320.5 904.1M322.3 863.9L322.3 884.0M330.4 890.7L330.4 910.8M330.5 870.6L330.5 890.7M333.7 683.0L333.7 696.4M335.3 696.4L335.3 709.8M389.6 549.0L389.6 569.1M391.3 528.9L391.3 549.0M394.5 790.2L394.5 803.6M396.3 803.6L396.3 817.0M399.5 810.3L399.5 837.1M399.4 837.1L399.4 863.9M407.6 475.3L407.6 495.4M409.4 455.2L409.4 475.3M417.6 676.3L417.6 689.7M419.3 689.7L419.3 703.1M425.9 629.4L425.9 649.5M427.6 649.5L427.6 669.6M430.8 729.9L430.8 756.7M432.4 756.7L432.4 783.5M466.9 662.9L466.9 683.0M468.7 683.0L468.7 703.1M495.1 602.6L495.1 622.7M496.8 582.5L496.8 602.6M504.9 957.7L504.9 977.8M506.7 937.6L506.7 957.7M509.9 977.8L509.9 1004.6M510.0 1004.6L510.0 1031.4M551.1 796.9L551.1 823.7M551.2 823.7L551.2 850.5M554.4 823.7L554.4 843.8M556.1 803.6L556.1 823.7M564.3 910.8L564.3 924.2M566.0 924.2L566.0 937.6M577.5 703.1L577.5 716.5M579.2 689.7L579.2 703.1M582.4 944.3L582.4 964.4M584.1 964.4L584.1 984.5M587.3 502.1L587.3 522.2M589.1 482.0L589.1 502.1M592.3 455.2L592.3 475.3M594.0 475.3L594.0 495.4M1010.8 756.7L1010.8 783.5M1010.9 729.9L1010.9 756.7M1019.1 689.7L1019.1 709.8M1020.8 709.8L1020.8 729.9M1028.9 609.3L1028.9 629.4M1030.7 589.2L1030.7 609.3M1033.9 569.1L1033.9 589.2M1034.0 549.0L1034.0 569.1M1093.3 756.7L1093.3 770.1M1095.1 743.3L1095.1 756.7M1098.3 790.2L1098.3 810.3M1098.4 810.3L1098.4 830.4M1111.5 830.4L1111.5 857.2M1113.2 857.2L1113.2 884.0M1116.4 696.4L1116.4 709.8M1118.1 683.0L1118.1 696.4M1121.3 977.8L1121.3 1004.6M1121.4 951.0L1121.4 977.8M1165.9 689.7L1165.9 709.8M1167.6 709.8L1167.6 729.9M1175.7 589.2L1175.7 616.0M1177.5 616.0L1177.5 642.8M1185.6 642.8L1185.6 662.9M1185.7 622.7L1185.7 642.8M1198.8 924.2L1198.8 937.6M1200.5 937.6L1200.5 951.0M1203.7 515.5L1203.7 542.3M1205.5 542.3L1205.5 569.1M1244.8 649.5L1244.8 669.6M1246.5 669.6L1246.5 689.7M1258.0 770.1L1258.0 790.2M1259.7 750.0L1259.7 770.1M1262.9 642.8L1262.9 669.6M1264.7 616.0L1264.7 642.8M1267.9 1018.0L1267.9 1044.8M1269.6 991.2L1269.6 1018.0M1272.8 817.0L1272.8 837.1M1272.9 796.9L1272.9 817.0M1699.7 629.4L1699.7 642.8M1701.4 642.8L1701.4 656.2M1712.7 636.1L1712.7 656.2M1714.5 616.0L1714.5 636.1M1717.7 870.6L1717.7 890.7M1719.4 890.7L1719.4 910.8M1722.6 977.8L1722.6 991.2M1724.3 991.2L1724.3 1004.6M1727.5 904.1L1727.5 924.2M1729.4 884.0L1729.4 904.1M1773.7 683.0L1773.7 703.1M1775.4 662.9L1775.4 683.0M1778.6 689.7L1778.6 703.1M1778.7 703.1L1778.7 716.5M1781.9 676.3L1781.9 703.1M1783.7 649.5L1783.7 676.3M1786.9 910.8L1786.9 930.9M1788.6 930.9L1788.6 951.0M1791.8 843.8L1791.8 863.9M1793.5 823.7L1793.5 843.8M1796.7 495.4L1796.7 508.8M1798.5 508.8L1798.5 522.2M1805.0 850.5L1805.0 877.3M1806.7 877.3L1806.7 904.1M1814.9 636.1L1814.9 649.5M1816.6 622.7L1816.6 636.1M1851.1 790.2L1851.1 817.0M1852.9 763.4L1852.9 790.2M1861.0 763.4L1861.0 783.5M1862.7 743.3L1862.7 763.4M1865.9 723.2L1865.9 736.6M1866.1 736.6L1866.1 750.0M1884.1 455.2L1884.1 468.6M1885.8 468.6L1885.8 482.0M1928.6 857.2L1928.6 877.3M1930.3 837.1L1930.3 857.2M1938.5 910.8L1938.5 930.9M1940.2 930.9L1940.2 951.0M1953.3 897.4L1953.3 924.2M1953.4 924.2L1953.4 951.0M1961.5 669.6L1961.5 696.4M1963.3 696.4L1963.3 723.2M1971.4 595.9L1971.4 609.3M1973.1 582.5L1973.1 595.9M1976.3 676.3L1976.3 689.7M1976.5 662.9L1976.5 676.3M2380.1 689.7L2380.1 716.5M2381.9 716.5L2381.9 743.3M2390.0 696.4L2390.0 716.5M2390.3 676.3L2390.3 696.4" fill="none" stroke="#00e4f8" stroke-width="2.9" stroke-linecap="butt"/>
<rect x="105" y="749.6" width="2255" height="2" fill="#ff0808"/>
<rect x="1525.6" y="76" width="2" height="1346" fill="#f9a400"/>
<polygon points="1504,74 1548,74 1526.5,95.5" fill="#ffa500"/>
<polygon points="2357.5,750.5 2398,730 2398,771" fill="#ff0000"/>
<text x="2381.5" y="764.3" font-family="Liberation Sans, sans-serif" font-weight="bold" font-size="31" fill="#fff">2</text>
<rect x="1714" y="44.4" width="679" height="26.5" fill="#828282"/>
<rect x="1741.5" y="44.4" width="621.7" height="26.5" fill="#fff"/>
<rect x="152" y="48" width="24.5" height="11" fill="#00dcf0"/>
<rect x="382" y="48" width="25" height="11" fill="#fff800"/>
</g>
</svg>
<div class="w" style="left:122px;top:193px;transform-origin:0 0;transform:scaleX(.96)">CH1: 0.40 V</div>
<div class="w" style="left:122px;top:218.5px;transform-origin:0 0;transform:scaleX(.96)">CH2: 1.98 V</div>
</body></html>
